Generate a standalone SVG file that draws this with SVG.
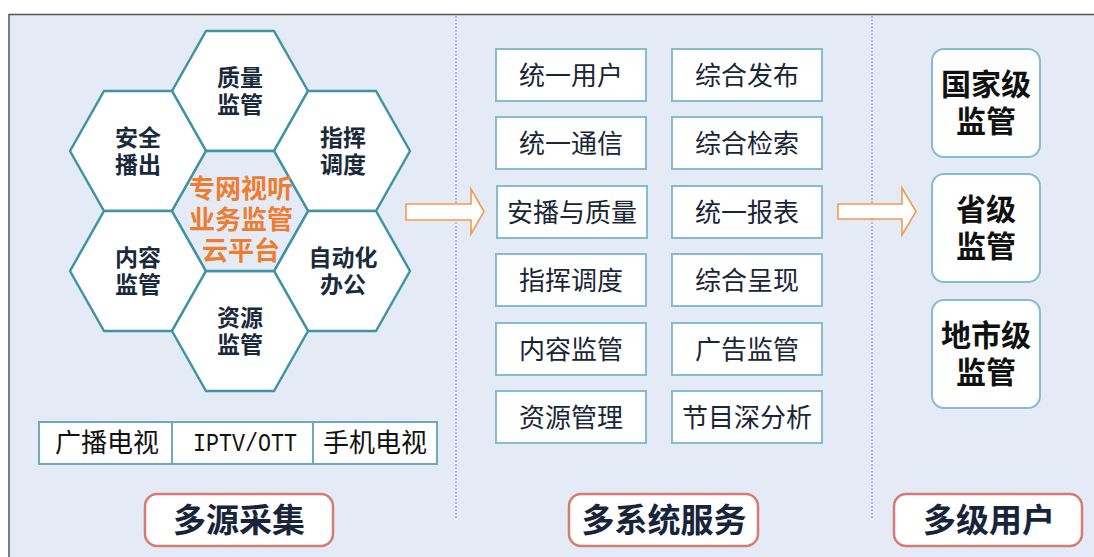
<svg xmlns="http://www.w3.org/2000/svg" width="1094" height="557" viewBox="0 0 1094 557">
<style>
.hex{fill:#fff;stroke:#3F93A3;stroke-width:2.5;stroke-linejoin:round}
.hexc{fill:#E4EBF6;stroke:#3F93A3;stroke-width:2.5;stroke-linejoin:round}
.hl{font-family:"Noto Sans CJK SC","Noto Sans",sans-serif;font-weight:bold;font-size:23px;fill:#1B2A3A;text-anchor:middle}
.cl{font-family:"Noto Sans CJK SC","Noto Sans",sans-serif;font-weight:bold;font-size:26px;fill:#ED7D31;text-anchor:middle}
.svc{fill:#fff;stroke:#86BCCB;stroke-width:2}
.st{font-family:"Noto Sans CJK SC","Noto Sans",sans-serif;font-size:26px;fill:#1A2636;text-anchor:middle}
.usr{fill:#fff;stroke:#86BCCB;stroke-width:2}
.ut{font-family:"Noto Sans CJK SC","Noto Sans",sans-serif;font-weight:bold;font-size:30px;fill:#111;text-anchor:middle}
.btn{fill:#fff;stroke:#D47C72;stroke-width:2.5}
.bt{font-family:"Noto Sans CJK SC","Noto Sans",sans-serif;font-weight:bold;font-size:33px;fill:#17243A;text-anchor:middle}
.div{stroke:#9B87C4;stroke-width:1.3;stroke-dasharray:1.5 2;fill:none}
.arr{fill:#fff;stroke:#F39A4E;stroke-width:1.6;stroke-linejoin:miter}
.mt{font-family:"Noto Sans CJK SC","Noto Sans",sans-serif;font-size:26px;fill:#111;text-anchor:middle}
</style>
<rect x="0" y="0" width="1094" height="557" fill="#fff"/>
<rect id="frame" x="9" y="14.5" width="1092" height="550" fill="#E4EBF6" stroke="#555" stroke-width="1.5"/>
<line class="div" x1="456" y1="16" x2="456" y2="520"/>
<line class="div" x1="872" y1="16" x2="872" y2="520"/>

<g id="hex-quality"><polygon class="hex" points="172,91 206,31 274,31 308,91 274,151 206,151"/><text class="hl"><tspan x="240" y="86">质量</tspan><tspan x="240" y="113">监管</tspan></text></g>
<g id="hex-safe"><polygon class="hex" points="70,151 104,91 172,91 206,151 172,211 104,211"/><text class="hl"><tspan x="138" y="146">安全</tspan><tspan x="138" y="173">播出</tspan></text></g>
<g id="hex-command"><polygon class="hex" points="274,151 308,91 376,91 410,151 376,211 308,211"/><text class="hl"><tspan x="343" y="146">指挥</tspan><tspan x="343" y="173">调度</tspan></text></g>
<g id="hex-content"><polygon class="hex" points="70,271 104,211 172,211 206,271 172,331 104,331"/><text class="hl"><tspan x="138" y="266">内容</tspan><tspan x="138" y="293">监管</tspan></text></g>
<g id="hex-office"><polygon class="hex" points="274,271 308,211 376,211 410,271 376,331 308,331"/><text class="hl"><tspan x="343" y="266">自动化</tspan><tspan x="343" y="293">办公</tspan></text></g>
<g id="hex-resource"><polygon class="hex" points="172,331 206,271 274,271 308,331 274,391 206,391"/><text class="hl"><tspan x="240" y="326">资源</tspan><tspan x="240" y="353">监管</tspan></text></g>
<g id="hex-center"><polygon class="hexc" points="172,211 206,151 274,151 308,211 274,271 206,271"/><text class="cl"><tspan x="241" y="198">专网视听</tspan><tspan x="241" y="229">业务监管</tspan><tspan x="241" y="260">云平台</tspan></text></g>

<g id="media-bar">
<rect x="39" y="422" width="398" height="42" fill="#fff" stroke="#6FAAB9" stroke-width="2"/>
<line x1="172" y1="422" x2="172" y2="464" stroke="#6FAAB9" stroke-width="2"/>
<line x1="313" y1="422" x2="313" y2="464" stroke="#6FAAB9" stroke-width="2"/>
<text class="mt" x="107" y="452">广播电视</text>
<text x="193" y="451" font-family="Liberation Mono,monospace" font-size="26" fill="#111" textLength="104" lengthAdjust="spacingAndGlyphs">IPTV/OTT</text>
<text class="mt" x="375" y="452">手机电视</text>
</g>

<g id="svc-1"><rect class="svc" x="496" y="49" width="150" height="52"/><text class="st" x="571" y="84.5">统一用户</text></g>
<g id="svc-2"><rect class="svc" x="672" y="49" width="150" height="52"/><text class="st" x="747" y="84.5">综合发布</text></g>
<g id="svc-3"><rect class="svc" x="496" y="117" width="150" height="52"/><text class="st" x="571" y="152.5">统一通信</text></g>
<g id="svc-4"><rect class="svc" x="672" y="117" width="150" height="52"/><text class="st" x="747" y="152.5">综合检索</text></g>
<g id="svc-5"><rect class="svc" x="497" y="186" width="150" height="52"/><text class="st" x="572" y="221.5">安播与质量</text></g>
<g id="svc-6"><rect class="svc" x="672" y="186" width="150" height="52"/><text class="st" x="747" y="221.5">统一报表</text></g>
<g id="svc-7"><rect class="svc" x="496" y="254" width="150" height="52"/><text class="st" x="571" y="289.5">指挥调度</text></g>
<g id="svc-8"><rect class="svc" x="672" y="254" width="150" height="52"/><text class="st" x="747" y="289.5">综合呈现</text></g>
<g id="svc-9"><rect class="svc" x="496" y="323" width="150" height="52"/><text class="st" x="571" y="358.5">内容监管</text></g>
<g id="svc-10"><rect class="svc" x="672" y="323" width="150" height="52"/><text class="st" x="747" y="358.5">广告监管</text></g>
<g id="svc-11"><rect class="svc" x="496" y="391" width="150" height="52"/><text class="st" x="571" y="426.5">资源管理</text></g>
<g id="svc-12"><rect class="svc" x="672" y="391" width="150" height="52"/><text class="st" x="747" y="426.5">节目深分析</text></g>

<g id="user-national"><rect class="usr" x="932" y="49" width="108" height="108" rx="12"/><text class="ut"><tspan x="986" y="95">国家级</tspan><tspan x="986" y="131.5">监管</tspan></text></g>
<g id="user-province"><rect class="usr" x="932" y="174" width="108" height="108" rx="12"/><text class="ut"><tspan x="986" y="220">省级</tspan><tspan x="986" y="256.5">监管</tspan></text></g>
<g id="user-city"><rect class="usr" x="932" y="300" width="108" height="108" rx="12"/><text class="ut"><tspan x="986" y="346">地市级</tspan><tspan x="986" y="382.5">监管</tspan></text></g>

<g id="btn-collect"><rect class="btn" x="145" y="494" width="188" height="52" rx="12"/><text class="bt" x="239" y="532">多源采集</text></g>
<g id="btn-service"><rect class="btn" x="569" y="494" width="189" height="52" rx="12"/><text class="bt" x="664" y="532">多系统服务</text></g>
<g id="btn-users"><rect class="btn" x="894" y="494" width="188" height="52" rx="12"/><text class="bt" x="989" y="532">多级用户</text></g>

<g id="connectors">
<polygon class="arr" points="406,204 471,204 471,189 484,211.5 471,234 471,220 406,220"/>
<polygon class="arr" points="838,204 902,204 902,188 916,211.5 902,235 902,219 838,219"/>
</g>
</svg>
